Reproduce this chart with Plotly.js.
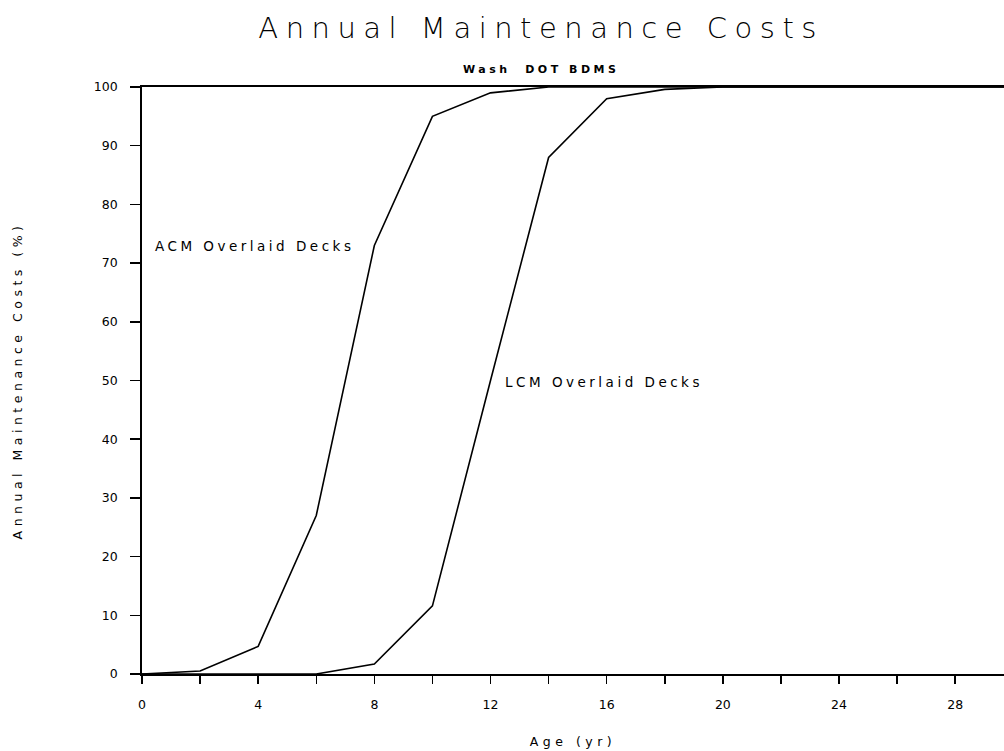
<!DOCTYPE html>
<html>
<head>
<meta charset="utf-8">
<script src="https://cdn.plot.ly/plotly-3.0.1.min.js"></script>
<style>
  html, body { margin: 0; padding: 0; background: #fff; }
  #chart { width: 1004px; height: 751px; }
  .gtitle { letter-spacing: 7.5px; }
  .annotation-text { letter-spacing: 3.5px; }
  .g-xtitle text { letter-spacing: 4.5px; }
  .g-ytitle text { letter-spacing: 4.5px; }
</style>
</head>
<body>
<div id="chart"></div>
<script>
// Age in years
const ageYears = [0, 2, 4, 6, 8, 10, 12, 14, 16, 18, 20, 22, 24, 26, 28, 30];
// ACM Overlaid Decks, annual maintenance costs (%)
const acmValues = [0, 0.5, 4.7, 27, 73, 95, 99, 100, 100, 100, 100, 100, 100, 100, 100, 100];
// LCM Overlaid Decks, annual maintenance costs (%)
const lcmValues = [0, 0, 0, 0, 1.7, 11.6, 50, 88, 98, 99.6, 100, 100, 100, 100, 100, 100];
// Tick values and labels
const xTickVals = [0, 2, 4, 6, 8, 10, 12, 14, 16, 18, 20, 22, 24, 26, 28];
const xTickLabels = ['0', '', '4', '', '8', '', '12', '', '16', '', '20', '', '24', '', '28'];
const yTickVals = [0, 10, 20, 30, 40, 50, 60, 70, 80, 90, 100];
const yTickLabels = ['0', '10', '20', '30', '40', '50', '60', '70', '80', '90', '100'];
const seriesNames = ['ACM Overlaid Decks', 'LCM Overlaid Decks'];

const lineStyle = { color: '#000', width: 1.6 };
const traces = [
  { x: ageYears, y: acmValues, mode: 'lines', name: seriesNames[0], line: lineStyle, hoverinfo: 'x+y' },
  { x: ageYears, y: lcmValues, mode: 'lines', name: seriesNames[1], line: lineStyle, hoverinfo: 'x+y' }
];

const tickFont = { family: 'DejaVu Sans', size: 12.5, color: '#000' };
const layout = {
  width: 1004, height: 751,
  margin: { l: 142, r: 0, t: 87, b: 77 },
  paper_bgcolor: '#fff', plot_bgcolor: '#fff',
  showlegend: false,
  title: {
    text: 'Annual Maintenance Costs',
    font: { family: 'DejaVu Sans', size: 29, color: '#000', weight: 200 },
    xref: 'container', x: 0.539, xanchor: 'center',
    yref: 'container', y: 0.963, yanchor: 'middle'
  },
  xaxis: {
    range: [0, 29.68],
    tickmode: 'array', tickvals: xTickVals, ticktext: xTickLabels,
    ticks: 'outside', ticklen: 8, tickwidth: 1.5, tickcolor: '#000',
    showline: true, linecolor: '#000', linewidth: 1.8, mirror: true,
    showgrid: false, zeroline: false,
    tickfont: tickFont, ticklabelstandoff: 10,
    title: { text: 'Age (yr)', font: { family: 'DejaVu Sans', size: 12.5, color: '#000' }, standoff: 26 }
  },
  yaxis: {
    range: [0, 100],
    tickmode: 'array', tickvals: yTickVals, ticktext: yTickLabels,
    ticks: 'outside', ticklen: 10, tickwidth: 1.5, tickcolor: '#000',
    showline: true, linecolor: '#000', linewidth: 1.8, mirror: false,
    showgrid: false, zeroline: false,
    tickfont: tickFont, ticklabelstandoff: 10,
    title: { text: 'Annual Maintenance Costs (%)', font: { family: 'DejaVu Sans', size: 12.5, color: '#000' }, standoff: 68 }
  },
  annotations: [
    { text: 'Wash  DOT BDMS', xref: 'paper', yref: 'paper', x: 0.463, y: 1.029,
      xanchor: 'center', yanchor: 'middle', showarrow: false,
      font: { family: 'DejaVu Sans', size: 11, color: '#000', weight: 'bold' } },
    { text: seriesNames[0], xref: 'x', yref: 'y', x: 0.39, y: 72.9,
      xanchor: 'left', yanchor: 'middle', showarrow: false,
      font: { family: 'DejaVu Sans', size: 13.5, color: '#000' } },
    { text: seriesNames[1], xref: 'x', yref: 'y', x: 12.44, y: 49.7,
      xanchor: 'left', yanchor: 'middle', showarrow: false,
      font: { family: 'DejaVu Sans', size: 13.5, color: '#000' } }
  ]
};

Plotly.newPlot('chart', traces, layout, { staticPlot: true, displayModeBar: false });
</script>
</body>
</html>
